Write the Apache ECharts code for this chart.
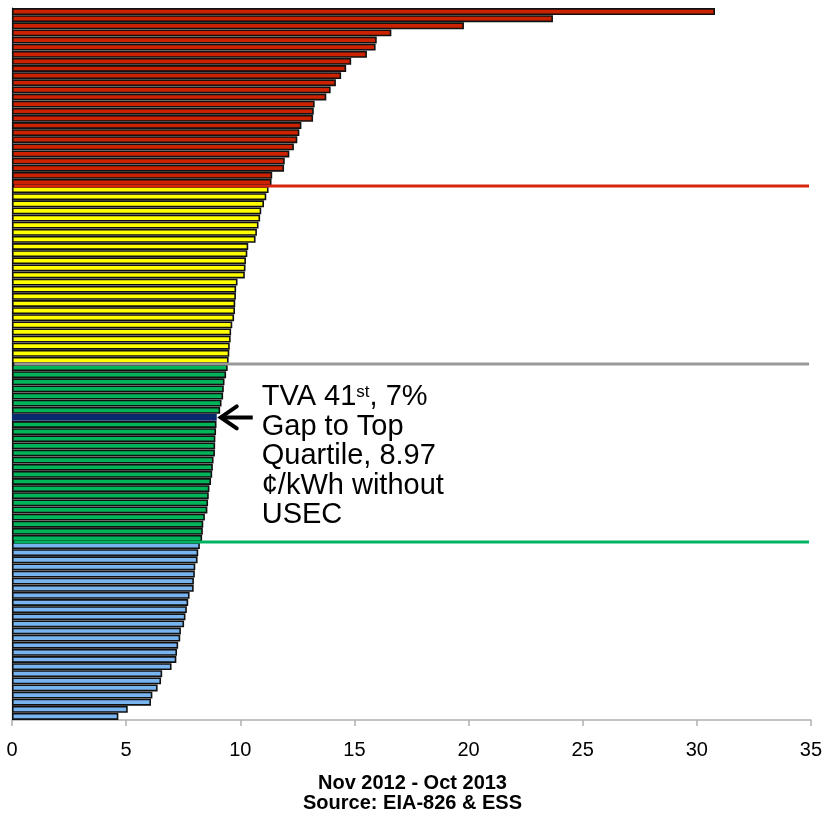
<!DOCTYPE html>
<html>
<head>
<meta charset="utf-8">
<script src="https://cdn.jsdelivr.net/npm/echarts@6/dist/echarts.min.js"></script>
<style>
  html, body { margin: 0; padding: 0; background: #ffffff; }
  #chart { width: 825px; height: 820px; }
</style>
</head>
<body>
<div id="chart"></div>
<script>
// Average retail price (¢/kWh), utilities ranked from highest to lowest
const topQuartile = [30.8, 23.7, 19.8, 16.62, 15.98, 15.93, 15.55, 14.86, 14.64, 14.42,
  14.19, 13.96, 13.77, 13.26, 13.22, 13.19, 12.68, 12.59, 12.5, 12.35,
  12.15, 11.95, 11.92, 11.4, 11.37];
const secondQuartile = [11.24, 11.14, 11.04, 10.92, 10.87, 10.8, 10.73, 10.67, 10.35, 10.31,
  10.25, 10.23, 10.2, 9.88, 9.82, 9.81, 9.78, 9.77, 9.73, 9.65,
  9.6, 9.58, 9.54, 9.52, 9.49];
const thirdQuartile = [9.45, 9.38, 9.31, 9.28, 9.25, 9.18, 9.12, 8.97, 8.96, 8.94,
  8.91, 8.9, 8.89, 8.83, 8.8, 8.77, 8.72, 8.65, 8.62, 8.59,
  8.56, 8.45, 8.38, 8.36, 8.33];
const bottomQuartile = [8.23, 8.16, 8.13, 8.03, 8.01, 7.97, 7.96, 7.78, 7.72, 7.66,
  7.6, 7.54, 7.4, 7.37, 7.28, 7.23, 7.2, 6.99, 6.58, 6.53,
  6.38, 6.15, 6.09, 5.07, 4.66];

const tvaIndexInThird = 7;
const xTickValues = [0, 5, 10, 15, 20, 25, 30, 35];
const axisTitleLines = ['Nov 2012 - Oct 2013', 'Source: EIA-826 & ESS'];

const quartileColors = ['#cc2200', '#ffff00', '#00b45a', '#78b4f0'];
const boundaryColors = ['#d8260e', '#999999', '#00b464'];
const tvaColor = '#0a2a6e';

const quartiles = [topQuartile, secondQuartile, thirdQuartile, bottomQuartile];

// Flatten quartiles into one ranked list of bars with per-bar colours
const barData = [];
const categories = [];
quartiles.forEach((q, qi) => {
  q.forEach((v, i) => {
    const isTva = qi === 2 && i === tvaIndexInThird;
    categories.push(String(categories.length + 1));
    barData.push({
      value: v,
      itemStyle: { color: isTva ? tvaColor : quartileColors[qi], borderColor: isTva ? tvaColor : '#111111' }
    });
  });
});
const tvaCategory = topQuartile.length + secondQuartile.length + tvaIndexInThird;
const tvaValue = thirdQuartile[tvaIndexInThird];

// Quartile boundary positions (in bar-count units on the hidden value axis)
const boundaries = [];
let running = 0;
for (let qi = 0; qi < 3; qi++) {
  running += quartiles[qi].length;
  boundaries.push(running);
}
const xMin = xTickValues[0];
const xMax = xTickValues[xTickValues.length - 1];

const font = 'Liberation Sans, Arial, sans-serif';

const chart = echarts.init(document.getElementById('chart'), null, { renderer: 'canvas' });

const boundarySeries = boundaries.map((b, i) => ({
  type: 'line',
  xAxisIndex: 0,
  yAxisIndex: 1,
  data: [[xMin + 0.1, b], [xMax - 0.08, b]],
  symbol: 'none',
  silent: true,
  z: 5,
  lineStyle: { color: boundaryColors[i], width: 3 }
}));

const titleGraphics = axisTitleLines.map((t, i) => ({
  type: 'text',
  left: 'center',
  top: 773 + i * 20.5,
  style: { text: t, fontSize: 20, fontWeight: 'bold', fontFamily: font, fill: '#000000' }
}));

chart.setOption({
  animation: false,
  backgroundColor: '#ffffff',
  grid: { left: 12, right: 13, top: 8, bottom: 100 },
  xAxis: {
    type: 'value',
    min: xMin,
    max: xMax,
    interval: 5,
    axisLine: { show: true, onZero: false, lineStyle: { color: '#b0b0b0', width: 1.5 } },
    axisTick: { show: true, length: 6, lineStyle: { color: '#b0b0b0', width: 1.5 } },
    splitLine: { show: false },
    axisLabel: { color: '#000000', fontSize: 20, margin: 20, fontFamily: font }
  },
  yAxis: [
    {
      type: 'category',
      data: categories,
      inverse: true,
      axisLine: { show: true, onZero: false, lineStyle: { color: '#222222', width: 1.2 } },
      axisTick: { show: false },
      axisLabel: { show: false },
      splitLine: { show: false }
    },
    {
      type: 'value',
      min: 0,
      max: categories.length,
      inverse: true,
      show: false,
      axisLine: { show: false, onZero: false },
      splitLine: { show: false }
    }
  ],
  series: [
    {
      type: 'bar',
      xAxisIndex: 0,
      yAxisIndex: 0,
      data: barData,
      barCategoryGap: '3%',
      itemStyle: { borderWidth: 1.6 },
      z: 2
    }
  ].concat(boundarySeries),
  graphic: titleGraphics
});

// Annotation arrow and callout text, anchored to the TVA bar's end
const tip = chart.convertToPixel({ xAxisIndex: 0, yAxisIndex: 0 }, [tvaValue, tvaCategory]);
const tx = tip[0] + 1;
const ty = tip[1];
const gapPct = 7;

chart.setOption({
  graphic: titleGraphics.concat([
    {
      type: 'polyline',
      shape: { points: [[tx + 3, ty], [tx + 35, ty]] },
      style: { stroke: '#000000', lineWidth: 4, fill: null },
      z: 10
    },
    {
      type: 'polyline',
      shape: { points: [[tx + 19, ty - 11], [tx + 3, ty], [tx + 19, ty + 11]] },
      style: { stroke: '#000000', lineWidth: 4, fill: null, lineCap: 'round', lineJoin: 'miter' },
      z: 10
    },
    {
      type: 'text',
      x: tx + 44,
      y: ty - 35,
      z: 10,
      style: {
        text: '{n|TVA 41}{s|st}{n|, ' + gapPct + '%}\n{n|Gap to Top}\n{n|Quartile, ' + tvaValue.toFixed(2) + '}\n{n|¢/kWh without}\n{n|USEC}',
        fill: '#000000',
        fontFamily: font,
        fontSize: 29,
        lineHeight: 29.5,
        rich: {
          n: { fontSize: 29, lineHeight: 29.5, fontFamily: font, fill: '#000000' },
          s: { fontSize: 17, lineHeight: 29.5, verticalAlign: 'top', fontFamily: font, fill: '#000000', padding: [1, 0, 0, 0] }
        }
      }
    }
  ])
});
</script>
</body>
</html>
